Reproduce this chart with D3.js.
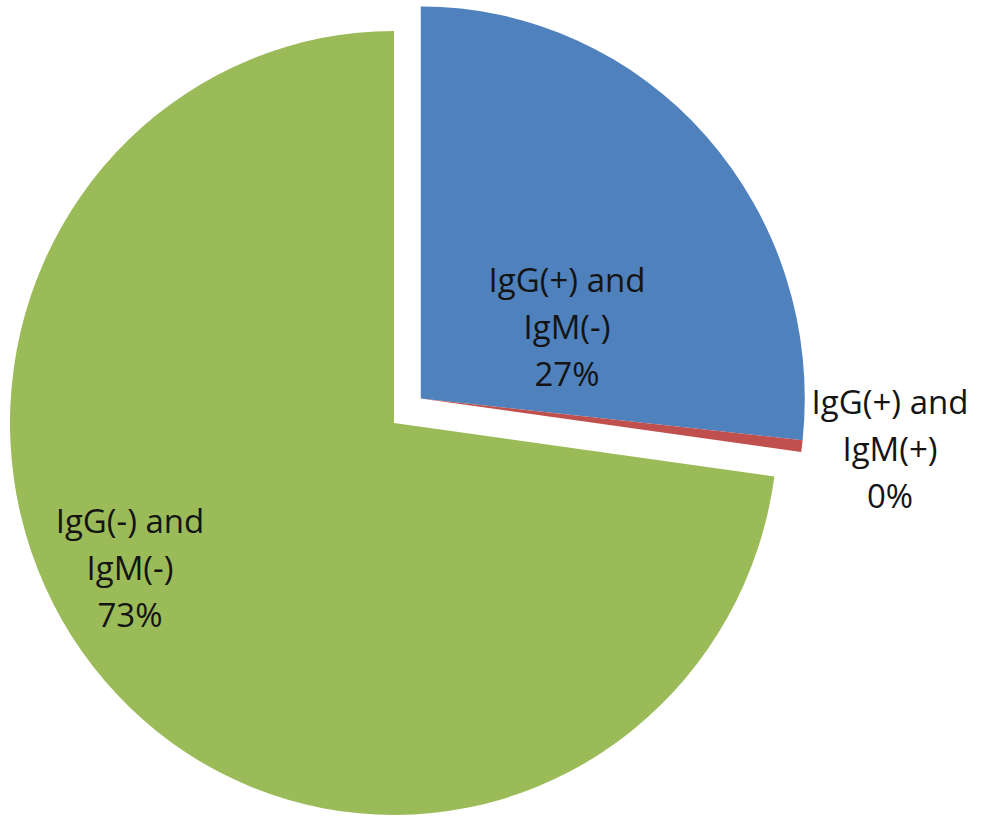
<!DOCTYPE html>
<html>
<head>
<meta charset="utf-8">
<script src="https://cdn.jsdelivr.net/npm/d3@7"></script>
<style>
body{margin:0;background:#fff;}
svg{display:block;}
</style>
</head>
<body>
<svg></svg>
<script>
// slices, in clockwise order from 12 o'clock
var names = [["IgG(+) and","IgM(-)"], ["IgG(+) and","IgM(+)"], ["IgG(-) and","IgM(-)"]]
var values = [26.7, 0.48, 72.82]
var colors = ["#4F81BD", "#C0504D", "#9BBB59"]
var exploded = [true, true, false]

var screen = {width:982,height:828}
var center = {x:394,y:423}
var radius = 384
var squash = 392/384   // picture is a bit taller than wide
var explodeDist = 36

// label anchors, relative to the centre
var labelPos = [[173,-84],[496,38],[-264,157]]

var pct = d3.format(".0%")

var setup = function()
{
    var svg = d3.select("svg")
        .attr("width",screen.width)
        .attr("height",screen.height)

    var total = d3.sum(values)
    var pie = d3.pie().sort(null).value(function(d){return d})
    var slices = pie(values)

    var arc = d3.arc().innerRadius(0).outerRadius(radius)

    // exploded slices move along the middle of the first slice
    var mid = (slices[0].startAngle + slices[0].endAngle)/2
    var ox = Math.sin(mid)*explodeDist
    var oy = -Math.cos(mid)*explodeDist

    var g = svg.append("g")
        .attr("transform","translate("+center.x+","+center.y+") scale(1,"+squash+")")

    g.selectAll("path")
        .data(slices)
        .enter()
        .append("path")
        .attr("d",arc)
        .attr("fill",function(d,i){return colors[i]})
        .attr("transform",function(d,i){
            if(exploded[i]){
                return "translate("+ox+","+oy+")"
            }
            return null
        })

    var labels = svg.append("g")
        .attr("transform","translate("+center.x+","+center.y+")")
        .selectAll("text")
        .data(slices)
        .enter()
        .append("text")
        .attr("x",function(d,i){return labelPos[i][0]})
        .attr("y",function(d,i){return labelPos[i][1]})
        .attr("text-anchor","middle")
        .style("font-family","'Open Sans', sans-serif")
        .style("font-size","33px")
        .style("fill","#141414")

    labels.each(function(d,i){
        var t = d3.select(this)
        var lines = names[i].concat([pct(d.value/total)])
        lines.forEach(function(line,k){
            t.append("tspan")
                .attr("x",labelPos[i][0])
                .attr("dy", k==0 ? "-1.43em" : "1.43em")
                .text(line)
        })
    })
}

setup()
</script>
</body>
</html>
